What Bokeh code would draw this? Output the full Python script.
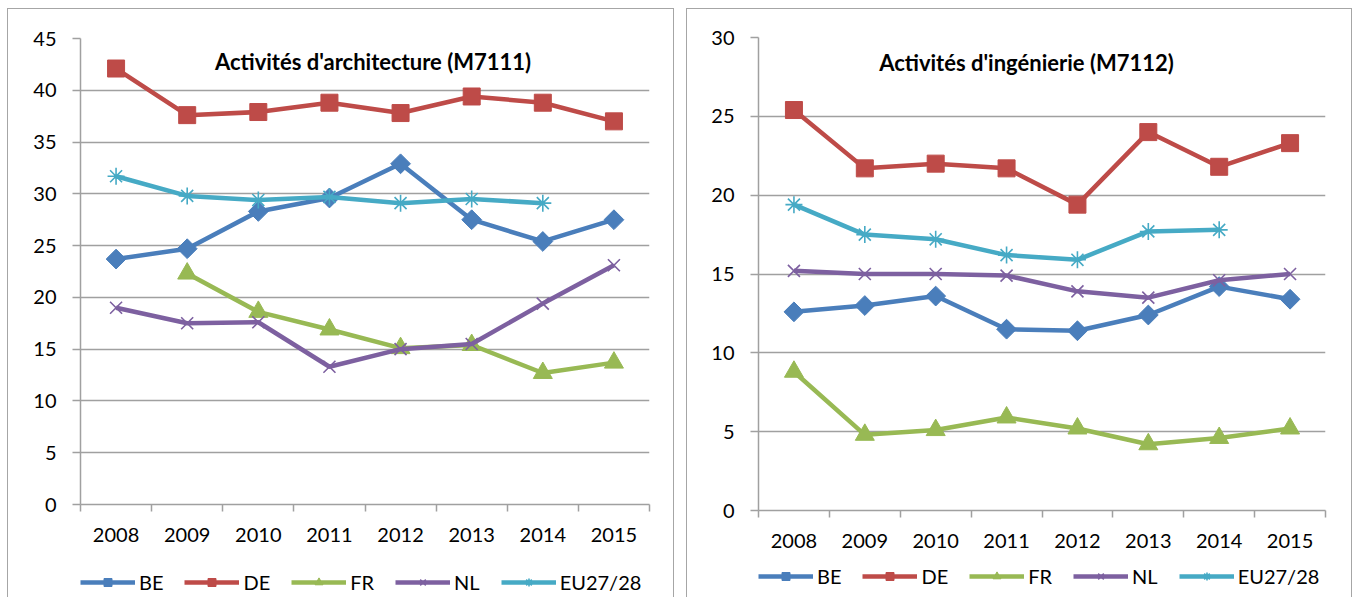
import math
from bokeh.plotting import figure
from bokeh.models import Range1d, FixedTicker, Legend, LegendItem, Label, Spacer
from bokeh.layouts import row, column
from bokeh.embed import file_html
from bokeh.resources import INLINE

NaN = float("nan")

years = ["2008", "2009", "2010", "2011", "2012", "2013", "2014", "2015"]
series_names = ["BE", "DE", "FR", "NL", "EU27/28"]

# Activités d'architecture (M7111)
arch_BE = [23.7, 24.7, 28.3, 29.6, 32.9, 27.5, 25.4, 27.5]
arch_DE = [42.1, 37.6, 37.9, 38.8, 37.8, 39.4, 38.8, 37.0]
arch_FR = [NaN, 22.3, 18.6, 16.9, 15.1, 15.4, 12.7, 13.7]
arch_NL = [19.0, 17.5, 17.6, 13.3, 15.0, 15.5, 19.4, 23.1]
arch_EU = [31.7, 29.8, 29.4, 29.7, 29.1, 29.5, 29.1, NaN]

# Activités d'ingénierie (M7112)
eng_BE = [12.6, 13.0, 13.6, 11.5, 11.4, 12.4, 14.2, 13.4]
eng_DE = [25.4, 21.7, 22.0, 21.7, 19.4, 24.0, 21.8, 23.3]
eng_FR = [8.8, 4.8, 5.1, 5.9, 5.2, 4.2, 4.6, 5.2]
eng_NL = [15.2, 15.0, 15.0, 14.9, 13.9, 13.5, 14.6, 15.0]
eng_EU = [19.4, 17.5, 17.2, 16.2, 15.9, 17.7, 17.8, NaN]

colors = ["#4A7EBB", "#BE4B48", "#98B954", "#7D60A0", "#46AAC5"]
markers = [("square", 14, math.pi / 4, 1), ("square", 17, 0, 1), ("triangle", 19, 0, 1),
           ("x", 17, 0, 1.6), ("asterisk", 17, 0, 1.6)]

FONT = "Lato"
GRID = "#A0A0A0"
BORDER = "#A6A6A6"


def border_styles(top=True):
    s = {"border-left": f"1px solid {BORDER}", "border-right": f"1px solid {BORDER}"}
    if top:
        s["border-top"] = f"1px solid {BORDER}"
    return s


def make_chart(title, data, ymax, W, H, mb_left, mb_right, mb_top, mb_bottom,
               title_x, title_y):
    n = len(years)
    xs = [i + 0.5 for i in range(n)]
    p = figure(width=W, height=H, output_backend="svg", toolbar_location=None,
               x_range=Range1d(0, n), y_range=Range1d(0, ymax),
               min_border_left=mb_left, min_border_right=mb_right,
               min_border_top=mb_top, min_border_bottom=mb_bottom,
               styles=border_styles(True))
    p.outline_line_color = None
    p.background_fill_color = "white"
    p.border_fill_color = "white"

    xa = p.xaxis[0]
    xa.ticker = FixedTicker(ticks=xs, minor_ticks=list(range(n + 1)))
    xa.major_label_overrides = {x: y for x, y in zip(xs, years)}
    xa.major_tick_line_color = None
    xa.major_tick_out = 0
    xa.major_tick_in = 0
    xa.minor_tick_line_color = GRID
    xa.minor_tick_out = 7
    xa.minor_tick_in = 0
    xa.minor_tick_line_width = 1.5
    xa.axis_line_color = GRID
    xa.axis_line_width = 1.5
    xa.major_label_text_font = FONT
    xa.major_label_text_font_size = "20px"
    xa.major_label_text_color = "black"
    xa.major_label_standoff = 16

    ya = p.yaxis[0]
    ya.ticker = FixedTicker(ticks=list(range(0, ymax + 1, 5)))
    ya.major_tick_out = 8
    ya.major_tick_in = 0
    ya.major_tick_line_color = GRID
    ya.major_tick_line_width = 1.5
    ya.minor_tick_line_color = None
    ya.axis_line_color = GRID
    ya.axis_line_width = 1.5
    ya.major_label_text_font = FONT
    ya.major_label_text_font_size = "20px"
    ya.major_label_text_color = "black"
    ya.major_label_standoff = 16

    p.xgrid.visible = False
    p.ygrid.grid_line_color = GRID
    p.ygrid.grid_line_width = 1.5

    for vals, col, (mk, sz, ang, lw) in zip(data, colors, markers):
        p.line(xs, vals, line_color=col, line_width=4.5)
        p.scatter(xs, vals, marker=mk, size=sz, angle=ang, fill_color=col,
                  line_color=col, line_width=lw)

    p.add_layout(Label(x=title_x, y=title_y, x_units="screen", y_units="screen",
                       text=title, text_font=FONT, text_font_style="bold",
                       text_font_size="22px", text_align="center",
                       text_baseline="middle", text_color="black"))
    return p


def make_legend(data, W, H, loc):
    n = len(years)
    xs = [i + 0.5 for i in range(n)]
    # the series are plotted here only to feed the legend; the y range keeps them out of view
    lf = figure(width=W, height=H, output_backend="svg", toolbar_location=None,
                x_range=Range1d(0, n), y_range=Range1d(-2, -1), min_border=0,
                x_axis_location=None, y_axis_location=None,
                styles=border_styles(False))
    lf.outline_line_color = None
    lf.grid.visible = False
    lf.background_fill_color = "white"
    lf.border_fill_color = "white"
    items = []
    for name, vals, col, (mk, sz, ang, lw) in zip(series_names, data, colors, markers):
        lr = lf.line(xs, vals, line_color=col, line_width=4.5)
        sr = lf.scatter(xs, vals, marker=mk, size=sz, angle=ang, fill_color=col,
                        line_color=col, line_width=lw)
        items.append(LegendItem(label=name, renderers=[lr, sr]))
    leg = Legend(items=items, orientation="horizontal", location=loc,
                 glyph_width=55, glyph_height=20, label_standoff=4, spacing=21,
                 padding=0, margin=0, border_line_color=None,
                 background_fill_alpha=0, label_text_font=FONT,
                 label_text_font_size="20px", label_text_color="black")
    lf.add_layout(leg)
    return lf


arch_data = [arch_BE, arch_DE, arch_FR, arch_NL, arch_EU]
eng_data = [eng_BE, eng_DE, eng_FR, eng_NL, eng_EU]

p1 = make_chart("Activités d'architecture (M7111)", arch_data, 45,
                667, 562, 72, 26, 29, 67, 292.5, 443)
l1 = make_legend(arch_data, 667, 27, (0, 3))
p2 = make_chart("Activités d'ingénierie (M7112)", eng_data, 30,
                666, 562, 71, 28, 28, 61, 268, 448)
l2 = make_legend(eng_data, 666, 27, (0, 9))

layout = column(Spacer(height=8),
                row(Spacer(width=7), column(p1, l1), Spacer(width=12), column(p2, l2)))
open("out.html", "w").write(file_html(layout, INLINE))
